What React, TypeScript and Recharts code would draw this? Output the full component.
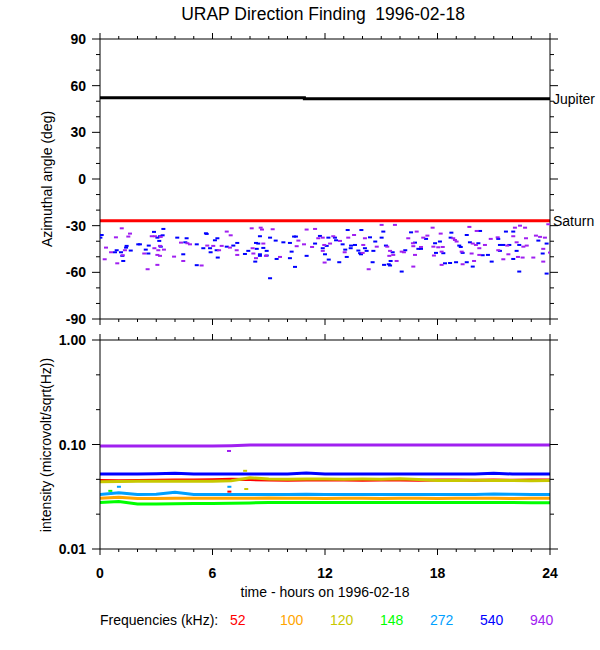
import { ComposedChart, Line, Scatter, XAxis, YAxis } from "recharts";

// ---- data ----
const hours = [0, 1, 2, 3, 4, 5, 6, 7, 8, 9, 10, 11, 12, 13, 14, 15, 16, 17, 18, 19, 20, 21, 22, 23, 24];
const hourTicks = hours;
const angleTicks = [-90, -80, -70, -60, -50, -40, -30, -20, -10, 0, 10, 20, 30, 40, 50, 60, 70, 80, 90];
const intensityTicks = [0.01, 0.0215443, 0.0464159, 0.1, 0.215443, 0.464159, 1];

const jupiter: [number, number][] = [[0, 52.3], [10.9, 51.6], [24, 51.6]];
const saturn: [number, number][] = [[0, -26.9], [24, -26.9]];

// direction fixes [hour, azimuth deg]
const fixes540: [number, number][] = [
  [0.09, -36.0], [0.02, -37.7], [0.89, -45.8], [0.8, -47.1], [1.12, -47.1], [1.19, -49.4], [1.42, -43.0],
  [1.39, -44.1], [1.64, -46.0], [1.24, -52.7], [2.04, -42.0], [2.13, -42.0], [2.44, -45.4], [2.6, -42.8],
  [2.58, -47.9], [2.88, -34.0], [3.06, -37.7], [3.2, -36.8], [3.34, -36.2], [3.16, -39.8], [3.24, -43.5],
  [3.38, -32.1], [4.12, -37.7], [4.62, -38.1], [4.55, -40.7], [5.16, -42.0], [4.44, -48.4], [5.16, -55.4],
  [5.65, -34.9], [5.69, -35.3], [5.51, -44.5], [5.87, -44.5], [5.9, -47.1], [6.13, -39.4], [6.26, -38.1],
  [6.22, -45.8], [6.28, -50.5], [6.76, -43.5], [7.11, -42.8], [7.32, -41.1], [7.73, -48.2], [7.91, -46.2],
  [8.53, -36.8], [9.07, -37.7], [8.32, -41.1], [8.44, -41.5], [8.36, -44.9], [8.53, -48.4], [8.71, -44.3],
  [8.28, -53.1], [8.53, -49.4], [8.89, -46.2], [8.89, -49.2], [9.37, -39.6], [9.78, -40.7], [10.13, -41.1],
  [10.22, -46.7], [10.35, -37.0], [10.45, -37.0], [10.13, -50.9], [9.42, -51.4], [10.4, -56.5], [9.07, -63.8],
  [11.02, -49.4], [11.47, -41.5], [11.73, -36.6], [12.18, -37.7], [12.53, -37.7], [12.59, -39.4], [11.88, -44.5],
  [12.09, -43.0], [12.0, -48.4], [12.2, -51.8], [12.76, -53.5], [12.94, -42.0], [13.08, -45.4], [13.21, -32.8],
  [13.16, -50.1], [13.39, -42.8], [13.6, -42.4], [13.37, -44.5], [13.94, -32.8], [13.78, -46.0], [13.87, -47.7],
  [13.92, -48.4], [14.13, -44.5], [14.22, -46.2], [14.4, -37.5], [14.68, -40.2], [14.58, -46.2], [14.54, -53.5],
  [15.11, -33.8], [15.02, -37.7], [15.25, -42.8], [15.61, -47.1], [15.5, -52.7], [15.4, -54.8], [15.15, -55.2],
  [15.47, -55.6], [16.09, -59.5], [16.28, -45.8], [16.59, -34.3], [16.8, -40.9], [16.98, -44.9], [17.12, -44.9],
  [17.39, -38.5], [17.87, -41.3], [17.92, -47.5], [18.31, -47.7], [18.13, -40.2], [18.74, -34.5], [18.7, -37.7],
  [19.16, -42.8], [19.24, -43.7], [19.34, -47.5], [19.56, -36.0], [20.27, -33.4], [19.73, -40.7], [20.18, -41.3],
  [20.41, -49.0], [20.69, -48.8], [21.24, -38.5], [21.33, -42.4], [21.51, -42.4], [21.83, -42.4], [21.33, -46.2],
  [22.04, -51.4], [20.89, -53.1], [19.88, -56.3], [18.67, -54.0], [18.99, -53.5], [18.4, -54.2], [19.56, -53.5],
  [21.65, -33.8], [22.04, -33.8], [22.36, -42.4], [23.38, -39.6], [23.82, -41.5], [23.61, -47.9], [23.82, -60.8],
  [22.36, -59.5], [22.22, -46.2],
];

const fixes940: [number, number][] = [
  [1.16, -31.7], [0.85, -37.5], [0.32, -44.1], [0.59, -47.1], [1.21, -49.0], [0.25, -51.6], [1.33, -45.8],
  [1.51, -37.0], [1.6, -35.1], [0.92, -54.2], [2.36, -47.9], [2.54, -58.0], [2.76, -36.8], [2.93, -36.8],
  [3.24, -37.2], [3.2, -43.0], [2.9, -44.5], [3.11, -45.8], [3.41, -45.4], [3.06, -48.8], [3.2, -49.4],
  [3.06, -55.2], [3.95, -49.9], [4.32, -40.9], [4.66, -41.3], [4.8, -42.0], [4.44, -52.7], [5.42, -55.6],
  [5.72, -42.8], [6.04, -43.0], [6.35, -45.8], [6.49, -43.0], [6.76, -33.8], [6.97, -36.2], [6.93, -44.1],
  [7.29, -45.8], [7.32, -48.8], [8.09, -31.7], [8.57, -31.3], [8.64, -32.5], [9.21, -32.3], [8.14, -44.5],
  [8.71, -41.5], [8.32, -50.9], [8.85, -49.4], [8.18, -47.9], [9.6, -50.1], [10.49, -43.2], [10.58, -39.6],
  [11.02, -32.5], [11.47, -32.1], [10.88, -42.0], [11.31, -43.7], [11.64, -38.1], [11.88, -37.7], [12.44, -36.8],
  [11.96, -42.4], [12.27, -41.5], [11.88, -46.2], [11.98, -53.7], [12.8, -39.8], [13.05, -47.1], [13.24, -37.7],
  [13.55, -36.0], [14.04, -42.4], [14.01, -47.5], [14.33, -58.0], [14.13, -38.1], [14.76, -43.5], [15.02, -29.5],
  [15.73, -29.5], [15.32, -43.5], [15.47, -46.2], [15.64, -48.8], [15.43, -49.4], [15.82, -52.7], [16.09, -46.7],
  [16.21, -47.1], [16.44, -38.1], [16.89, -33.8], [16.69, -41.3], [16.71, -43.2], [17.12, -43.7], [16.8, -48.8],
  [17.24, -37.7], [17.46, -36.4], [17.74, -31.3], [18.17, -35.1], [17.78, -43.5], [18.04, -43.9], [18.28, -43.7],
  [17.81, -49.2], [18.22, -46.7], [16.71, -56.3], [18.84, -38.1], [18.93, -39.2], [19.02, -40.2], [19.29, -46.7],
  [19.7, -30.8], [20.09, -33.4], [19.88, -41.5], [20.05, -42.4], [20.23, -44.5], [19.82, -47.9], [20.23, -48.8],
  [20.53, -42.4], [20.84, -38.5], [21.21, -37.5], [21.72, -42.8], [21.24, -45.8], [21.78, -48.4], [21.51, -51.6],
  [19.95, -52.7], [18.22, -55.2], [19.34, -54.8], [22.13, -31.3], [22.4, -30.0], [22.67, -31.3], [22.04, -36.8],
  [22.72, -38.1], [23.25, -36.4], [22.22, -40.7], [22.58, -43.5], [22.76, -42.8], [22.54, -50.5], [22.29, -50.1],
  [23.11, -50.5], [23.47, -37.2], [23.73, -37.7], [23.64, -44.9], [24.0, -47.3], [23.91, -29.1], [23.64, -53.1],
];

// intensity (microvolt/sqrt(Hz)), hourly
const frequencies = ["52", "100", "120", "148", "272", "540", "940"];
const i52 = [0.0452, 0.045, 0.0452, 0.0455, 0.0457, 0.0457, 0.046, 0.0465, 0.0462, 0.0457, 0.0455, 0.0457, 0.0457, 0.0457, 0.0455, 0.0457, 0.0457, 0.0455, 0.0457, 0.0457, 0.0455, 0.0457, 0.0455, 0.0457, 0.0457];
const i100 = [0.0306, 0.0312, 0.0304, 0.0304, 0.0306, 0.0306, 0.0306, 0.0306, 0.0306, 0.0308, 0.0306, 0.0306, 0.0304, 0.0306, 0.0306, 0.0304, 0.0306, 0.0306, 0.0304, 0.0306, 0.0306, 0.0306, 0.0304, 0.0306, 0.0306];
const i120 = [0.044, 0.0442, 0.0444, 0.0444, 0.0444, 0.0444, 0.0444, 0.045, 0.048, 0.0468, 0.0466, 0.0468, 0.0468, 0.0466, 0.0468, 0.0466, 0.047, 0.0462, 0.0452, 0.0452, 0.0454, 0.0452, 0.0452, 0.045, 0.0452];
const i148 = [0.0278, 0.0285, 0.027, 0.027, 0.0271, 0.0272, 0.0272, 0.0274, 0.0276, 0.0278, 0.0278, 0.0278, 0.0278, 0.0278, 0.0279, 0.0278, 0.0278, 0.0278, 0.0278, 0.0278, 0.0278, 0.0278, 0.0278, 0.0277, 0.0277];
const i272 = [0.0332, 0.0345, 0.0332, 0.0335, 0.035, 0.0332, 0.0332, 0.0332, 0.0332, 0.0332, 0.0332, 0.0335, 0.0332, 0.0332, 0.0332, 0.0332, 0.0332, 0.0332, 0.0332, 0.0332, 0.0332, 0.0336, 0.0334, 0.0332, 0.0332];
const i540 = [0.0522, 0.0522, 0.0522, 0.0525, 0.053, 0.0522, 0.0522, 0.0522, 0.0522, 0.0522, 0.0522, 0.0535, 0.0522, 0.0522, 0.0522, 0.0522, 0.0522, 0.0522, 0.0522, 0.0522, 0.0522, 0.053, 0.0522, 0.0522, 0.0522];
const i940 = [0.0967, 0.0967, 0.0967, 0.0967, 0.0967, 0.0967, 0.0967, 0.0975, 0.0989, 0.0989, 0.0989, 0.0989, 0.0989, 0.0989, 0.0989, 0.0989, 0.0989, 0.0989, 0.0989, 0.0989, 0.0989, 0.0989, 0.0989, 0.0989, 0.0989];
const intensities = [i52, i100, i120, i148, i272, i540, i940];

// isolated samples off the main traces [freq index, hour, intensity]
const strays: [number, number, number][] = [
  [6, 6.88, 0.0867], [4, 6.9, 0.0394], [4, 1.01, 0.0394], [0, 6.9, 0.0354],
  [2, 7.8, 0.0375], [2, 7.74, 0.056], [3, 0.55, 0.036],
];

// ---- style ----
const COLORS = ["#ff0000", "#ffa500", "#c8c800", "#00ff00", "#00a0ff", "#0000ff", "#a020f0"];
const FONT = "'Liberation Sans', Arial, Helvetica, sans-serif";
const W = 600;

const toPts = (pairs: [number, number][]) => pairs.map(([t, v]) => ({ t, v }));

type Side = "left" | "right" | "top" | "bottom";

function makeTick(side: Side, isMajor: (v: number) => boolean, label?: (v: number) => string) {
  return function Tick(props: any) {
    const { x, y, payload } = props;
    const v = payload.value;
    const major = isMajor(v);
    const vertical = side === "left" || side === "right";
    const len = vertical ? (major ? 8 : 4) : major ? 6 : 3;
    const dir = side === "left" || side === "top" ? -1 : 1;
    const line = vertical ? (
      <line x1={x} y1={y} x2={x + dir * len} y2={y} stroke="#000" />
    ) : (
      <line x1={x} y1={y} x2={x} y2={y + dir * len} stroke="#000" />
    );
    let text = null;
    if (label && major) {
      text =
        side === "left" ? (
          <text x={x - 14} y={y} dy="0.36em" textAnchor="end" fontSize={14} fontWeight="bold" fontFamily={FONT}>
            {label(v)}
          </text>
        ) : (
          <text x={x} y={y + 29} textAnchor="middle" fontSize={14} fontWeight="bold" fontFamily={FONT}>
            {label(v)}
          </text>
        );
    }
    return (
      <g>
        {line}
        {text}
      </g>
    );
  };
}

const hourMajor = (v: number) => v % 6 === 0;
const angleMajor = (v: number) => v % 30 === 0;
const intensityMajor = (v: number) => [0.01, 0.1, 1].includes(v);

const dash = (color: string) => (p: any) => <rect x={p.cx - 2} y={p.cy - 1} width={4} height={2} fill={color} />;

function planetLabel(name: string, last: number) {
  return (p: any) =>
    p.index === last ? (
      <text key={name} x={p.x + 3} y={p.y} dy="0.36em" fontSize={14} fontFamily={FONT}>
        {name}
      </text>
    ) : (
      <g key={name + p.index} />
    );
}

function AnglePanel() {
  return (
    <ComposedChart width={W} height={340} margin={{ top: 19, right: 0, bottom: 0, left: 40 }}>
      <XAxis xAxisId="b" dataKey="t" type="number" domain={[0, 24]} ticks={hourTicks} interval={0} height={21}
        tickSize={0} tickMargin={0} tickLine={false} stroke="#000" tick={makeTick("bottom", hourMajor)} allowDataOverflow />
      <XAxis xAxisId="t" orientation="top" dataKey="t" type="number" domain={[0, 24]} ticks={hourTicks} interval={0}
        height={20} tickSize={0} tickMargin={0} tickLine={false} stroke="#000" tick={makeTick("top", hourMajor)} allowDataOverflow />
      <YAxis yAxisId="l" dataKey="v" type="number" domain={[-90, 90]} ticks={angleTicks} interval={0} width={60}
        tickSize={0} tickMargin={0} tickLine={false} stroke="#000" allowDataOverflow
        tick={makeTick("left", angleMajor, (v) => String(v))} />
      <YAxis yAxisId="r" orientation="right" dataKey="v" type="number" domain={[-90, 90]} ticks={angleTicks}
        interval={0} width={50} tickSize={0} tickMargin={0} tickLine={false} stroke="#000" allowDataOverflow
        tick={makeTick("right", angleMajor)} />
      <Scatter xAxisId="b" yAxisId="l" data={toPts(fixes540)} shape={dash(COLORS[5])} isAnimationActive={false} />
      <Scatter xAxisId="b" yAxisId="l" data={toPts(fixes940)} shape={dash(COLORS[6])} isAnimationActive={false} />
      <Line xAxisId="b" yAxisId="l" data={toPts(jupiter)} dataKey="v" type="stepAfter" stroke="#000" strokeWidth={3}
        dot={false} isAnimationActive={false} label={planetLabel("Jupiter", jupiter.length - 1)} />
      <Line xAxisId="b" yAxisId="l" data={toPts(saturn)} dataKey="v" type="linear" stroke="#ff0000" strokeWidth={3}
        dot={false} isAnimationActive={false} label={planetLabel("Saturn", saturn.length - 1)} />
    </ComposedChart>
  );
}

function IntensityPanel() {
  const fmt = (v: number) => v.toFixed(2);
  return (
    <ComposedChart width={W} height={280} margin={{ top: 0, right: 0, bottom: 0, left: 40 }}>
      <XAxis xAxisId="b" dataKey="t" type="number" domain={[0, 24]} ticks={hourTicks} interval={0} height={51}
        tickSize={0} tickMargin={0} tickLine={false} stroke="#000" allowDataOverflow
        tick={makeTick("bottom", hourMajor, (v) => String(v))} />
      <XAxis xAxisId="t" orientation="top" dataKey="t" type="number" domain={[0, 24]} ticks={hourTicks} interval={0}
        height={20} tickSize={0} tickMargin={0} tickLine={false} stroke="#000" tick={makeTick("top", hourMajor)} allowDataOverflow />
      <YAxis yAxisId="l" dataKey="v" type="number" scale="log" domain={[0.01, 1]} ticks={intensityTicks} interval={0}
        width={60} tickSize={0} tickMargin={0} tickLine={false} stroke="#000" allowDataOverflow
        tick={makeTick("left", intensityMajor, fmt)} />
      <YAxis yAxisId="r" orientation="right" dataKey="v" type="number" scale="log" domain={[0.01, 1]}
        ticks={intensityTicks} interval={0} width={50} tickSize={0} tickMargin={0} tickLine={false} stroke="#000"
        allowDataOverflow tick={makeTick("right", intensityMajor)} />
      {intensities.map((series, k) => (
        <Line key={frequencies[k]} xAxisId="b" yAxisId="l" data={hours.map((t, i) => ({ t, v: series[i] }))}
          dataKey="v" type="linear" stroke={COLORS[k]} strokeWidth={3} dot={false} isAnimationActive={false} />
      ))}
      {frequencies.map((f, k) => (
        <Scatter key={"s" + f} xAxisId="b" yAxisId="l" isAnimationActive={false} shape={dash(COLORS[k])}
          data={strays.filter((s) => s[0] === k).map(([, t, v]) => ({ t, v }))} />
      ))}
    </ComposedChart>
  );
}

export default function App() {
  return (
    <div style={{ position: "absolute", left: 0, top: 0, width: W, height: 650, background: "#fff" }}>
      <svg width={W} height={650} style={{ position: "absolute", left: 0, top: 0 }} fontFamily={FONT}>
        <text x={323} y={20} textAnchor="middle" fontSize={17.5}>
          {"URAP Direction Finding\u00a0 1996-02-18"}
        </text>
        <text transform="translate(47,179) rotate(-90)" textAnchor="middle" dy="0.36em" fontSize={14}>
          Azimuthal angle (deg)
        </text>
        <text transform="translate(46,445) rotate(-90)" textAnchor="middle" dy="0.36em" fontSize={14}>
          intensity (microvolt/sqrt(Hz))
        </text>
        <text x={325} y={597} textAnchor="middle" fontSize={14}>
          time - hours on 1996-02-18
        </text>
        <text x={100} y={625} fontSize={14}>
          Frequencies (kHz):
        </text>
        {frequencies.map((f, k) => (
          <text key={f} x={230 + k * 50} y={625} fontSize={14} fill={COLORS[k]}>
            {f}
          </text>
        ))}
      </svg>
      <div style={{ position: "absolute", left: 0, top: 0 }}>
        <AnglePanel />
      </div>
      <div style={{ position: "absolute", left: 0, top: 320 }}>
        <IntensityPanel />
      </div>
    </div>
  );
}
